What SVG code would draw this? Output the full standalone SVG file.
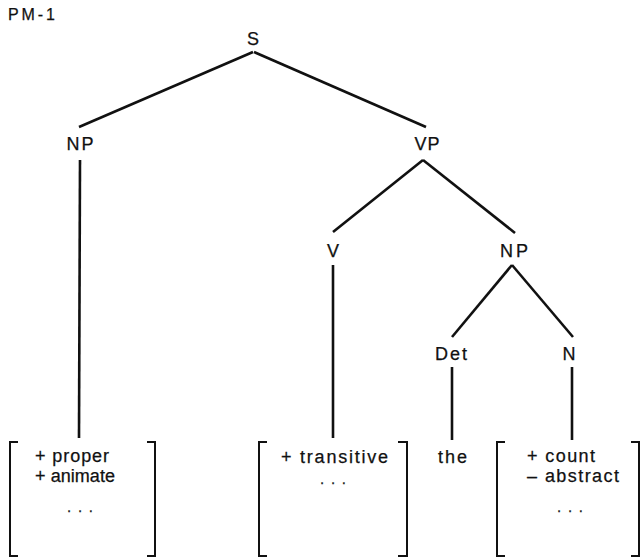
<svg xmlns="http://www.w3.org/2000/svg" width="641" height="558" viewBox="0 0 641 558">
  <style>
    text { font-family: "Liberation Sans", Arial, sans-serif; fill: #111; stroke: #111; stroke-width: 0.25; }
    .lbl { font-size: 18px; text-anchor: middle; }
    .feat { font-size: 18px; }
    .dots { font-size: 15px; }
    .edge { stroke: #111; stroke-width: 2.6; stroke-linecap: butt; fill: none; }
    .brk { stroke: #111; stroke-width: 2; fill: none; }
  </style>
  <rect width="641" height="558" fill="#fff"/>

  <text x="8" y="20" font-size="16" textLength="47" lengthAdjust="spacing">PM-1</text>

  <!-- tree branches -->
  <g id="connectors">
    <line class="edge" x1="253" y1="52" x2="79" y2="127"/>
    <line class="edge" x1="254" y1="52" x2="426" y2="127"/>
    <line class="edge" x1="80" y1="160" x2="79" y2="438"/>
    <line class="edge" x1="423" y1="160" x2="333" y2="232"/>
    <line class="edge" x1="423" y1="160" x2="515" y2="233"/>
    <line class="edge" x1="333" y1="265" x2="333" y2="438"/>
    <line class="edge" x1="512" y1="265" x2="452" y2="337"/>
    <line class="edge" x1="512" y1="265" x2="573" y2="337"/>
    <line class="edge" x1="452" y1="367" x2="452" y2="440"/>
    <line class="edge" x1="572" y1="367" x2="572" y2="440"/>
  </g>

  <!-- category nodes -->
  <g id="node-S"><text class="lbl" x="253" y="45">S</text></g>
  <g id="node-NP1"><text class="lbl" x="80" y="150" textLength="27" lengthAdjust="spacing">NP</text></g>
  <g id="node-VP"><text class="lbl" x="427" y="150" textLength="25" lengthAdjust="spacing">VP</text></g>
  <g id="node-V"><text class="lbl" x="333" y="257">V</text></g>
  <g id="node-NP2"><text class="lbl" x="514" y="257" textLength="28" lengthAdjust="spacing">NP</text></g>
  <g id="node-Det"><text class="lbl" x="451" y="360" textLength="32" lengthAdjust="spacing">Det</text></g>
  <g id="node-N"><text class="lbl" x="569" y="360">N</text></g>

  <!-- feature matrix under NP -->
  <g id="node-features-NP">
    <path class="brk" d="M18,442 H10 V556 H18"/>
    <path class="brk" d="M147,442 H155 V556 H147"/>
    <text class="feat" x="35" y="462" textLength="74" lengthAdjust="spacing">+ proper</text>
    <text class="feat" x="35" y="482" textLength="80" lengthAdjust="spacing">+ animate</text>
    <text class="dots" x="67" y="512" textLength="26" lengthAdjust="spacing">. . .</text>
  </g>

  <!-- feature matrix under V -->
  <g id="node-features-V">
    <path class="brk" d="M267,442 H259 V556 H267"/>
    <path class="brk" d="M398,442 H407 V556 H398"/>
    <text class="feat" x="281" y="463" textLength="107" lengthAdjust="spacing">+ transitive</text>
    <text class="dots" x="320" y="484" textLength="26" lengthAdjust="spacing">. . .</text>
  </g>

  <!-- determiner -->
  <g id="node-the">
    <text class="feat" x="438" y="463" textLength="29" lengthAdjust="spacing">the</text>
  </g>

  <!-- feature matrix under N -->
  <g id="node-features-N">
    <path class="brk" d="M505,442 H497 V556 H505"/>
    <path class="brk" d="M631,442 H639 V556 H631"/>
    <text class="feat" x="527" y="462" textLength="68" lengthAdjust="spacing">+ count</text>
    <text class="feat" x="527" y="482" textLength="92" lengthAdjust="spacing">– abstract</text>
    <text class="dots" x="557" y="512" textLength="26" lengthAdjust="spacing">. . .</text>
  </g>
</svg>
